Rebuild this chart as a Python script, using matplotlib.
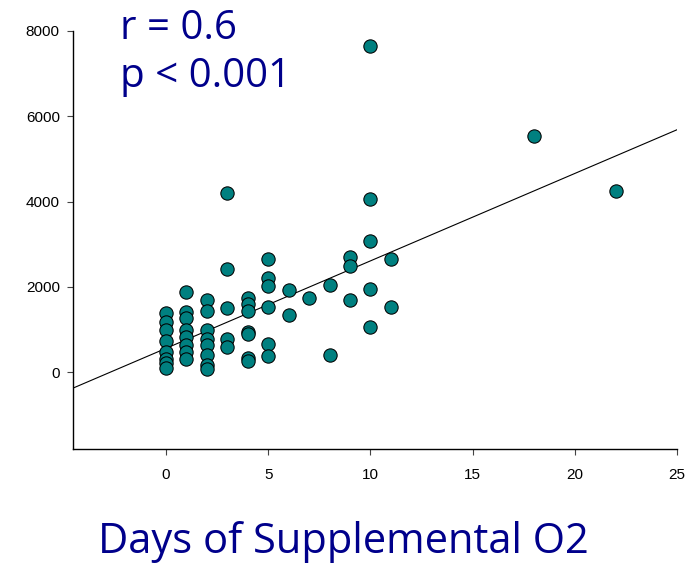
import numpy as np
import matplotlib.pyplot as plt

# days of supplemental O2 vs value
days = [0, 0, 0, 0, 0, 0, 0, 0,
        1, 1, 1, 1, 1, 1, 1, 1,
        2, 2, 2, 2, 2, 2, 2, 2,
        3, 3, 3, 3, 3,
        4, 4, 4, 4, 4, 4, 4,
        5, 5, 5, 5, 5, 5,
        6, 6, 7, 8, 8,
        9, 9, 9,
        10, 10, 10, 10, 10,
        11, 11, 18, 22]
values = [1390, 1170, 985, 735, 475, 320, 220, 90,
          1880, 1410, 1260, 985, 830, 630, 475, 320,
          1700, 1440, 1000, 790, 630, 400, 165, 85,
          4200, 2430, 1510, 770, 590,
          1740, 1610, 1440, 950, 900, 330, 270,
          2650, 2200, 2030, 1520, 660, 370,
          1920, 1340, 1750, 2040, 400,
          2690, 2490, 1690,
          7650, 4050, 3070, 1960, 1050,
          2650, 1540, 5540, 4250]

# regression line
fit_intercept = 560
fit_slope = 205

x_ticks = [0, 5, 10, 15, 20, 25]
y_ticks = [0, 2000, 4000, 6000, 8000]
stat_lines = ['r = 0.6', 'p < 0.001']
x_title = 'Days of Supplemental O2'

blue = '#00008B'

fig = plt.figure(figsize=(6.98, 5.63), dpi=100)
ax = fig.add_axes([73 / 698, 1 - 449 / 563, (677 - 73) / 698, (449 - 31) / 563])

xmin, xmax = -4.55, 25
ax.set_xlim(xmin, xmax)
ax.set_ylim(-1800, 8000)

xs = np.array([xmin, xmax])
ax.plot(xs, fit_intercept + fit_slope * xs, color='black', lw=0.8, zorder=1)
ax.scatter(days, values, s=92, color='#008080', edgecolors='black',
           linewidths=0.75, zorder=2, clip_on=False)

for side in ['top', 'right']:
    ax.spines[side].set_visible(False)
for side in ['left', 'bottom']:
    ax.spines[side].set_linewidth(1.0)

ax.set_xticks(x_ticks)
ax.set_yticks(y_ticks)
ax.tick_params(axis='both', direction='out', length=4.5, width=0.8, color='#444444',
               labelsize=11)
ax.tick_params(axis='x', pad=9)
ax.tick_params(axis='y', pad=5)
for lab in ax.get_xticklabels() + ax.get_yticklabels():
    lab.set_fontfamily('Liberation Sans')

fig.text(120 / 698, 1 - 39 / 563, stat_lines[0], color=blue, fontsize=29,
         family='Open Sans', va='baseline', ha='left')
fig.text(120 / 698, 1 - 87 / 563, stat_lines[1], color=blue, fontsize=29,
         family='Open Sans', va='baseline', ha='left')
fig.text(343 / 698, 1 - 553 / 563, x_title, color=blue, fontsize=30,
         family='Open Sans', va='baseline', ha='center')

fig.savefig('out.png', dpi=100)
